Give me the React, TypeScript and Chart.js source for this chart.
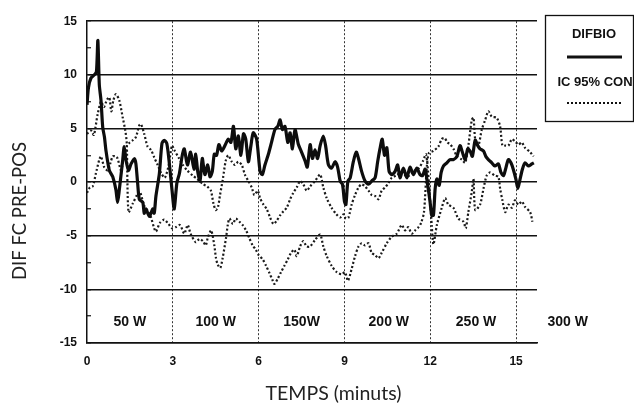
import { useEffect, useRef } from "react";
import { Chart, registerables } from "chart.js";
Chart.register(...registerables);

const xTicks = [0, 3, 6, 9, 12, 15];
const yTicks = [-15, -12.5, -10, -7.5, -5, -2.5, 0, 2.5, 5, 7.5, 10, 12.5, 15];
const xMax = 15.73;

const powerLabels = ["50 W", "100 W", "150W", "200 W", "250 W", "300 W"];
const powerTimes = [1.5, 4.5, 7.5, 10.55, 13.6, 16.8];
const powerLevel = -13.1;

const xTitle = "TEMPS (minuts)";
const yTitle = "DIF FC PRE-POS";
const seriesLabels = ["DIFBIO", "IC 95% CON"];

const difT = [0,0.05,0.14,0.26,0.33,0.38,0.43,0.49,0.55,0.61,0.66,0.78,0.9,1.01,1.07,1.13,1.25,1.3,1.36,1.45,1.54,1.66,1.71,1.77,1.83,1.95,2.0,2.06,2.18,2.3,2.35,2.41,2.53,2.62,2.7,2.79,2.88,2.97,3.05,3.14,3.23,3.33,3.4,3.51,3.62,3.74,3.8,3.87,3.95,4.03,4.12,4.22,4.3,4.38,4.45,4.53,4.61,4.71,4.82,4.94,5.03,5.12,5.2,5.29,5.38,5.47,5.55,5.64,5.73,5.81,5.93,6.05,6.13,6.22,6.34,6.45,6.57,6.67,6.75,6.83,6.92,7.02,7.1,7.18,7.27,7.39,7.5,7.62,7.7,7.8,7.88,7.97,8.06,8.15,8.26,8.34,8.44,8.55,8.67,8.76,8.85,8.93,9.0,9.05,9.12,9.2,9.31,9.41,9.49,9.6,9.72,9.84,9.95,10.07,10.16,10.24,10.32,10.4,10.48,10.56,10.65,10.77,10.86,10.94,11.06,11.18,11.29,11.41,11.53,11.64,11.73,11.82,11.91,11.99,12.05,12.11,12.17,12.23,12.31,12.38,12.46,12.58,12.69,12.81,12.93,13.04,13.12,13.22,13.31,13.39,13.47,13.57,13.66,13.74,13.86,13.94,14.03,14.15,14.26,14.38,14.47,14.56,14.63,14.73,14.82,14.9,14.99,15.06,15.14,15.22,15.31,15.43,15.55,15.62];
const difV = [7.2,8.8,9.7,10.0,10.3,13.2,9.1,7.6,5.1,4.2,3.0,1.1,0.5,-0.7,-1.9,-0.7,2.1,3.3,2.1,1.1,1.7,2.2,1.7,-0.1,-1.6,-1.9,-2.9,-2.5,-3.2,-2.5,-2.9,-1.3,0.8,3.6,3.9,3.6,1.7,-0.7,-2.5,-0.1,0.8,2.5,3.1,1.6,2.8,1.2,2.6,1.0,0.1,2.2,0.7,1.6,0.5,1.0,2.6,2.5,3.5,2.9,3.4,4.0,3.7,5.2,3.1,4.3,2.5,4.5,4.0,1.9,3.4,4.6,4.0,1.0,0.7,1.6,2.6,3.7,4.9,5.2,5.8,4.9,5.2,3.7,4.6,3.1,4.9,3.5,2.8,2.0,1.4,3.5,2.2,3.0,2.2,3.4,4.3,3.4,1.6,1.3,1.9,1.4,0.1,-0.2,-1.8,-2.1,0.1,0.4,1.9,2.8,2.2,1.0,0.1,-0.2,0.1,0.4,1.9,3.1,4.0,2.5,3.2,1.0,0.7,1.0,1.6,0.4,1.3,0.4,1.4,0.7,1.3,0.7,0.6,1.2,-0.3,-1.8,-3.1,-3.1,-0.6,0.3,-0.3,0.9,1.5,1.8,2.1,2.1,2.4,3.4,2.8,2.1,3.1,2.9,2.4,3.9,3.4,3.1,2.9,2.4,2.1,1.8,1.5,1.7,0.9,0.6,1.2,2.1,1.8,1.2,0.3,-0.6,0.3,1.2,1.8,1.5,1.7,1.8];

const icAT = [0,0.14,0.24,0.37,0.49,0.59,0.7,0.78,0.85,0.92,1.01,1.13,1.25,1.34,1.39,1.45,1.6,1.75,1.85,2.0,2.2,2.4,2.55,2.7,2.85,2.97,3.1,3.25,3.4,3.52,3.62,3.8,3.93,4.05,4.15,4.22,4.34,4.45,4.51,4.57,4.66,4.74,4.86,4.92,4.98,5.1,5.2,5.33,5.44,5.56,5.67,5.79,5.9,6.0,6.14,6.26,6.38,6.48,6.55,6.67,6.78,6.9,7.02,7.13,7.25,7.33,7.45,7.56,7.68,7.8,7.97,8.15,8.26,8.38,8.55,8.73,8.9,9.02,9.12,9.25,9.37,9.49,9.6,9.72,9.84,9.95,10.07,10.19,10.3,10.48,10.65,10.83,11.0,11.12,11.23,11.35,11.47,11.59,11.68,11.78,11.88,11.95,12.1,12.28,12.4,12.5,12.6,12.7,12.81,12.93,13.1,13.22,13.33,13.45,13.51,13.57,13.68,13.8,13.92,14.03,14.15,14.32,14.44,14.52,14.62,14.73,14.85,14.96,15.08,15.2,15.31,15.49,15.61];
const icAV = [4.5,4.8,4.4,6.3,7.5,7.0,7.7,7.9,6.6,7.6,8.2,7.6,6.0,4.8,3.6,-2.8,-2.0,-1.2,-0.9,-2.2,-3.0,-4.6,-3.8,-3.5,-3.9,-4.3,-4.2,-4.0,-4.8,-4.0,-4.8,-5.6,-5.3,-5.5,-5.9,-5.2,-4.5,-5.9,-7.1,-7.7,-8.0,-7.1,-5.2,-4.0,-3.4,-3.9,-3.4,-3.7,-4.0,-4.5,-5.2,-5.9,-6.3,-6.8,-7.2,-7.8,-8.5,-9.1,-9.5,-9.0,-8.4,-7.8,-7.2,-6.6,-6.3,-6.9,-6.0,-5.5,-6.0,-6.0,-5.4,-4.9,-6.0,-6.9,-7.8,-8.4,-8.6,-8.4,-9.2,-8.1,-6.9,-6.0,-5.7,-5.9,-5.7,-6.6,-6.8,-7.1,-6.6,-5.7,-5.1,-4.8,-4.0,-4.5,-4.2,-4.8,-4.5,-4.2,-3.8,-2.8,1.5,2.7,2.9,3.3,4.0,4.1,3.7,3.5,3.1,2.4,2.1,1.8,3.4,5.8,6.0,4.0,3.4,4.9,5.8,6.6,6.1,6.0,5.2,3.4,3.4,3.4,4.0,3.8,3.5,3.7,3.2,2.8,2.4];

const icBT = [0,0.1,0.2,0.31,0.43,0.49,0.6,0.72,0.82,0.9,1.0,1.07,1.19,1.3,1.4,1.5,1.6,1.71,1.83,1.89,2.0,2.12,2.24,2.35,2.47,2.6,2.72,2.85,2.97,3.05,3.2,3.35,3.5,3.7,3.85,4.06,4.2,4.33,4.42,4.5,4.58,4.65,4.75,4.85,4.94,5.06,5.17,5.29,5.41,5.52,5.64,5.76,5.85,5.97,6.05,6.17,6.28,6.4,6.52,6.63,6.75,6.87,6.98,7.1,7.21,7.33,7.45,7.56,7.68,7.8,7.97,8.15,8.26,8.38,8.55,8.72,8.85,8.97,9.05,9.14,9.25,9.37,9.49,9.6,9.72,9.84,9.95,10.07,10.19,10.3,10.42,10.54,10.65,10.8,11.0,11.2,11.4,11.6,11.75,11.85,11.95,12.05,12.11,12.23,12.4,12.52,12.63,12.81,12.98,13.16,13.24,13.33,13.45,13.51,13.57,13.74,13.86,13.97,14.09,14.26,14.38,14.44,14.52,14.62,14.73,14.85,14.96,15.08,15.2,15.31,15.49,15.57];
const icBV = [-1.0,-0.5,-0.4,0.8,2.1,2.4,1.4,1.1,1.8,2.4,2.4,2.2,1.1,2.5,3.4,3.7,3.9,4.2,5.3,5.4,4.5,3.3,3.0,2.3,1.6,0.8,0.4,1.5,3.4,3.0,2.3,1.6,1.1,0.6,0.3,-0.2,-0.4,-0.8,-2.0,-2.6,-2.3,-1.2,0.3,2.0,2.5,1.9,1.6,1.9,1.6,0.7,0.1,-0.5,-1.2,-0.8,-1.5,-2.1,-2.5,-3.3,-3.9,-3.6,-3.1,-2.7,-2.4,-1.6,-1.0,-0.5,0.1,-0.2,-0.8,-0.4,0.1,0.7,-0.5,-1.5,-2.4,-3.0,-3.3,-3.0,-3.4,-3.3,-2.1,-1.2,-0.5,-0.2,-0.4,-0.8,-1.2,-1.3,-1.6,-0.8,-0.5,-0.1,0.4,0.6,0.9,0.5,1.0,1.3,2.0,2.6,0.0,-4.0,-5.8,-4.0,-2.4,-1.5,-2.1,-2.4,-3.4,-3.7,-4.3,-2.8,-0.9,0.3,-2.6,-2.1,-0.6,0.6,0.9,0.6,0.5,-0.6,-1.7,-2.8,-2.1,-2.4,-1.7,-2.1,-1.8,-2.3,-2.8,-3.7];

const toPoints = (t: number[], v: number[]) => t.map((x, i) => ({ x, y: v[i] }));

const decorPlugin = {
  id: "decor",
  afterDraw(chart: any) {
    const { ctx } = chart;
    const x = chart.scales.x;
    const y = chart.scales.y;
    ctx.save();
    ctx.fillStyle = "#111";
    ctx.textAlign = "center";
    ctx.textBaseline = "middle";
    ctx.font = 'bold 14px "Liberation Sans", Arial, sans-serif';
    powerLabels.forEach((l, i) => {
      ctx.fillText(l, x.getPixelForValue(powerTimes[i]), y.getPixelForValue(powerLevel));
    });
    // axis titles
    ctx.fillStyle = "#222";
    ctx.font = '19.5px Lato, "Open Sans", sans-serif';
    ctx.fillText(xTitle, 333.5, 394);
    ctx.font = '18.5px Lato, "Open Sans", sans-serif';
    ctx.save();
    ctx.translate(20.5, 211);
    ctx.rotate(-Math.PI / 2);
    ctx.fillText(yTitle, 0, 0);
    ctx.restore();
    // legend box
    ctx.strokeStyle = "#111";
    ctx.lineWidth = 1.3;
    ctx.strokeRect(545.5, 15.5, 88, 106);
    ctx.fillStyle = "#111";
    ctx.font = 'bold 13px "Liberation Sans", Arial, sans-serif';
    ctx.fillText(seriesLabels[0], 594, 34.5);
    ctx.fillText(seriesLabels[1], 595, 82);
    ctx.beginPath();
    ctx.lineWidth = 3;
    ctx.moveTo(567, 57);
    ctx.lineTo(622, 57);
    ctx.stroke();
    ctx.beginPath();
    ctx.lineWidth = 2;
    ctx.setLineDash([2, 2]);
    ctx.moveTo(567, 103);
    ctx.lineTo(622, 103);
    ctx.stroke();
    ctx.restore();
  },
};

export default function App() {
  const ref = useRef<HTMLCanvasElement | null>(null);
  useEffect(() => {
    document.body.style.margin = "0";
    const canvas = ref.current;
    if (!canvas) return;
    const chart = new Chart(canvas, {
      type: "line",
      data: {
        datasets: [
          {
            label: seriesLabels[0],
            data: toPoints(difT, difV),
            borderColor: "#0d0d0d",
            borderWidth: 3.2,
            pointRadius: 0,
            tension: 0.25,
          },
          {
            label: seriesLabels[1],
            data: toPoints(icAT, icAV),
            borderColor: "#1a1a1a",
            borderWidth: 2.2,
            borderDash: [2, 2.2],
            pointRadius: 0,
            tension: 0.25,
          },
          {
            label: seriesLabels[1],
            data: toPoints(icBT, icBV),
            borderColor: "#1a1a1a",
            borderWidth: 2.2,
            borderDash: [2, 2.2],
            pointRadius: 0,
            tension: 0.25,
          },
        ],
      },
      options: {
        animation: false,
        responsive: false,
        devicePixelRatio: 1,
        layout: { padding: { left: 8, top: 17, right: 97, bottom: 0 } },
        plugins: { legend: { display: false }, tooltip: { enabled: false } },
        scales: {
          x: {
            type: "linear",
            min: 0,
            max: xMax,
            afterBuildTicks: (s: any) => {
              s.ticks = xTicks.map((v) => ({ value: v }));
            },
            afterFit: (s: any) => {
              s.height = 63;
            },
            ticks: {
              padding: 11,
              color: "#111",
              font: { family: '"Liberation Sans", Arial, sans-serif', size: 12, weight: "bold" },
              callback: (v: any) => String(v),
            },
            grid: {
              drawTicks: false,
              color: (c: any) => (c.tick && c.tick.value === 0 ? "rgba(0,0,0,0)" : "#333"),
              lineWidth: 1,
            },
            border: { display: true, color: "#111", width: 1.5, dash: [2, 2] },
          },
          y: {
            type: "linear",
            min: -15,
            max: 15,
            afterBuildTicks: (s: any) => {
              s.ticks = yTicks.map((v) => ({ value: v }));
            },
            afterFit: (s: any) => {
              s.width = 79;
            },
            ticks: {
              padding: 14,
              color: "#111",
              font: { family: '"Liberation Sans", Arial, sans-serif', size: 12, weight: "bold" },
              callback: (v: any) => (Number(v) % 5 === 0 ? String(v) : ""),
            },
            grid: {
              drawTicks: true,
              tickLength: -4,
              color: (c: any) => (c.tick && c.tick.value % 5 === 0 ? "#111" : "rgba(0,0,0,0)"),
              tickColor: "#111",
              lineWidth: 1.5,
              tickWidth: 1.2,
            },
            border: { display: true, color: "#111", width: 1.5 },
          },
        },
      },
      plugins: [decorPlugin],
    });
    return () => chart.destroy();
  }, []);
  return (
    <div style={{ position: "absolute", left: 0, top: 0, width: 634, height: 406 }}>
      <canvas ref={ref} width={634} height={406} style={{ width: 634, height: 406, display: "block" }} />
    </div>
  );
}
